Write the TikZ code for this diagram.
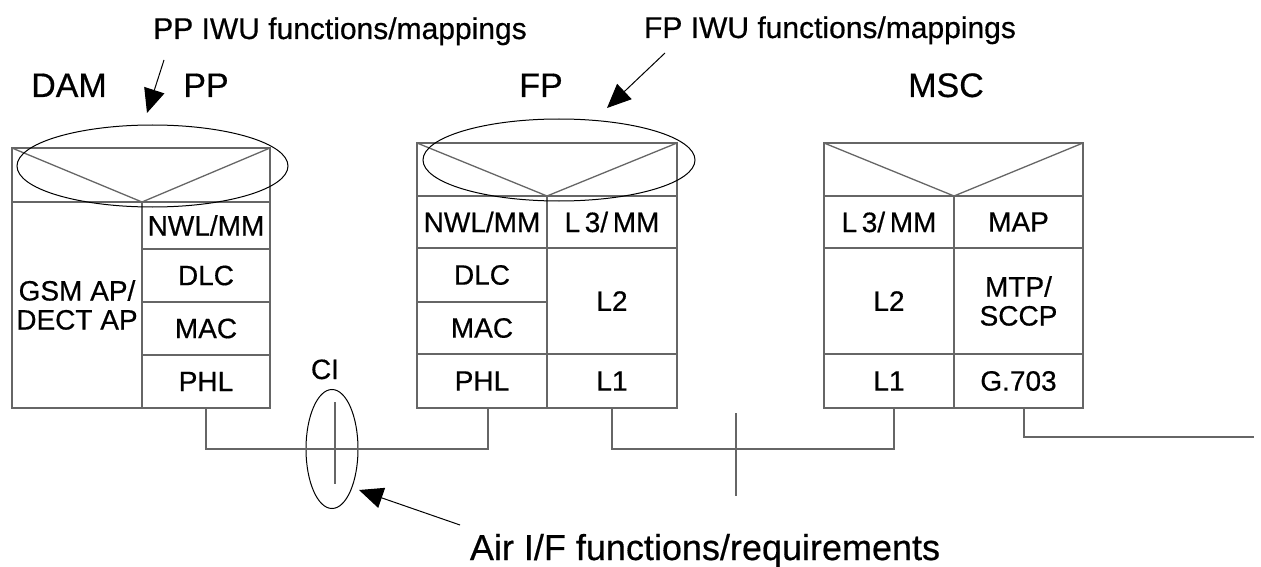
\documentclass[tikz,border=0pt]{standalone}
\usepackage{fontspec}
\setmainfont{Liberation Sans}[FakeBold=0.5]
\usetikzlibrary{arrows.meta,shapes.geometric}
\definecolor{linegray}{gray}{0.4}
\begin{document}
\begin{tikzpicture}[
  x=1pt, y=-1pt,
  cell/.style={draw=linegray, line width=1.3pt, inner sep=0pt, outer sep=0pt, align=center, font=\fontsize{28}{29}\selectfont},
  title/.style={anchor=base, font=\fontsize{34}{40}\selectfont},
  note/.style={anchor=base, font=\fontsize{30}{36}\selectfont},
  wire/.style={draw=linegray, line width=1.3pt},
  ring/.style={draw, line width=1pt, ellipse, inner sep=0pt, outer sep=0pt},
  pointer/.style={line width=1pt, -{Triangle[length=24pt,width=21pt]}}
]
\useasboundingbox (0,0) rectangle (1261,567);

\node[title] (dam) at (69,97) {DAM};
\node[title] (pp) at (206,97) {PP};
\node[title] (fp) at (541,97) {FP};
\node[title] (msc) at (946,97) {MSC};
\node[note] (ppiwu) at (340,39) {PP IWU functions/mappings};
\node[note] (fpiwu) at (830,38) {FP IWU functions/mappings};
\node[anchor=base, font=\fontsize{36}{40}\selectfont] (air) at (705,560) {Air I/F functions/requirements};

\node[cell, minimum width=258pt, minimum height=54pt] (pphead) at (141,175) {};
\node[cell, minimum width=130pt, minimum height=206pt] (ppap) at (77,305) {GSM AP/\\DECT AP};
\node[cell, minimum width=128pt, minimum height=47pt] (ppnwl) at (206,225.5) {NWL/MM};
\node[cell, minimum width=128pt, minimum height=53pt] (ppdlc) at (206,275.5) {DLC};
\node[cell, minimum width=128pt, minimum height=53pt] (ppmac) at (206,328.5) {MAC};
\node[cell, minimum width=128pt, minimum height=53pt] (ppphl) at (206,381.5) {PHL};
\draw[wire] (pphead.north west) -- (ppnwl.north west) -- (pphead.north east);

\node[cell, minimum width=260pt, minimum height=53pt] (fphead) at (547,169.5) {};
\node[cell, minimum width=130pt, minimum height=52pt] (fpnwl) at (482,222) {NWL/MM};
\node[cell, minimum width=130pt, minimum height=54pt] (fpdlc) at (482,275) {DLC};
\node[cell, minimum width=130pt, minimum height=52pt] (fpmac) at (482,328) {MAC};
\node[cell, minimum width=130pt, minimum height=54pt] (fpphl) at (482,381) {PHL};
\node[cell, minimum width=130pt, minimum height=52pt] (fpl3) at (612,222) {L\,3/\,MM};
\node[cell, minimum width=130pt, minimum height=106pt] (fpl2) at (612,301) {L2};
\node[cell, minimum width=130pt, minimum height=54pt] (fpl1) at (612,381) {L1};
\draw[wire] (fphead.north west) -- (fpnwl.north east) -- (fphead.north east);

\node[cell, minimum width=259pt, minimum height=53pt] (mshead) at (953.5,169.5) {};
\node[cell, minimum width=130pt, minimum height=52pt] (msl3) at (889,222) {L\,3/\,MM};
\node[cell, minimum width=130pt, minimum height=106pt] (msl2) at (889,301) {L2};
\node[cell, minimum width=130pt, minimum height=54pt] (msl1) at (889,381) {L1};
\node[cell, minimum width=129pt, minimum height=52pt] (msmap) at (1018.5,222) {MAP};
\node[cell, minimum width=129pt, minimum height=106pt] (msmtp) at (1018.5,301) {MTP/\\SCCP};
\node[cell, minimum width=129pt, minimum height=54pt] (msg) at (1018.5,381) {G.703};
\draw[wire] (mshead.north west) -- (msl3.north east) -- (mshead.north east);

\node[ring, minimum width=271pt, minimum height=82pt] (ppring) at (152.5,166) {};
\node[ring, minimum width=272pt, minimum height=82pt] (fpring) at (559,160) {};
\node[ring, minimum width=52pt, minimum height=119pt] (ci) at (332,449) {};
\node[anchor=base, font=\fontsize{28}{29}\selectfont] (cilabel) at (325,379) {CI};

\draw[wire] (ppphl.south) -- ++(0,41) -| ([xshift=6pt]fpphl.south);
\draw[wire] (fpl1.south) -- ++(0,41) -| ([xshift=5pt]msl1.south);
\coordinate (trunkend) at (1254,437);
\draw[wire] ([xshift=5.5pt]msg.south) |- (trunkend);
\draw[wire] ([shift={(3,-47)}]ci.center) -- ++(0,82);
\coordinate (crosstop) at (736,413);
\coordinate (crossbot) at (736,496);
\draw[wire] (crosstop) -- (crossbot);

\coordinate (pptail) at (164,60);
\coordinate (pptip) at (147,113);
\coordinate (fptail) at (665,53);
\coordinate (fptip) at (607,108);
\coordinate (airtail) at (460,525);
\coordinate (airtip) at (359,490);
\draw[pointer] (pptail) -- (pptip);
\draw[pointer] (fptail) -- (fptip);
\draw[pointer] (airtail) -- (airtip);
\end{tikzpicture}
\end{document}
